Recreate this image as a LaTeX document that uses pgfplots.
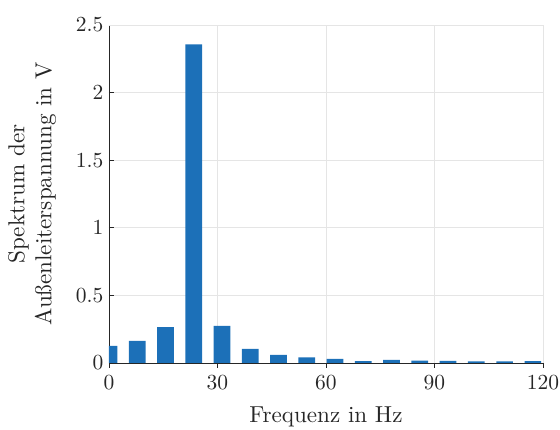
\documentclass[border=0pt]{standalone}
\usepackage{fontspec}
\setmainfont{lmroman10-regular.otf}
\usepackage{pgfplots}
\pgfplotsset{compat=1.18}
\definecolor{mblue}{RGB}{28,112,184}
\definecolor{axgray}{rgb}{0.15,0.15,0.15}
\definecolor{grd}{rgb}{0.9,0.9,0.9}

\begin{document}
\begin{tikzpicture}
\begin{axis}[
  scale only axis,
  width=434pt, height=338pt,
  xmin=0, xmax=120, ymin=0, ymax=2.5,
  xtick={0,30,60,90,120},
  ytick={0,0.5,1,1.5,2,2.5},
  axis x line*=bottom, axis y line*=left,
  axis line style={axgray, line width=0.8pt},
  tick style={axgray, line width=0.8pt},
  tick align=inside,
  major tick length=5pt,
  grid=major,
  major grid style={grd, line width=0.8pt},
  /pgf/number format/assume math mode=true,
  ticklabel style={font=\fontsize{21.5}{25}\selectfont, text=axgray},
  label style={font=\fontsize{23.1}{27}\selectfont, text=axgray},
  xlabel={Frequenz in Hz},
  ylabel={Spektrum der\\Außenleiterspannung in V},
  ylabel style={align=center, yshift=13pt},
  xlabel style={yshift=-10pt},
  xticklabel style={yshift=-4pt},
  yticklabel style={/pgf/number format/fixed, xshift=-2pt},
  ybar, bar width=4.6,
]
\draw[grd, line width=0.8pt] (axis cs:0,2.5) -- (axis cs:120,2.5) -- (axis cs:120,0);
\addplot[fill=mblue, draw=none] coordinates {
  (0,0.126) (7.8125,0.163) (15.625,0.266) (23.4375,2.357) (31.25,0.275)
  (39.0625,0.104) (46.875,0.06) (54.6875,0.041) (62.5,0.03) (70.3125,0.013)
  (78.125,0.024) (85.9375,0.018) (93.75,0.015) (101.5625,0.012) (109.375,0.012)
  (117.1875,0.013)
};
\end{axis}
\pgfresetboundingbox
\path ([xshift=-109pt,yshift=-67pt]current axis.south west)
  rectangle ([xshift=17pt,yshift=25pt]current axis.north east);
\end{tikzpicture}
\end{document}
